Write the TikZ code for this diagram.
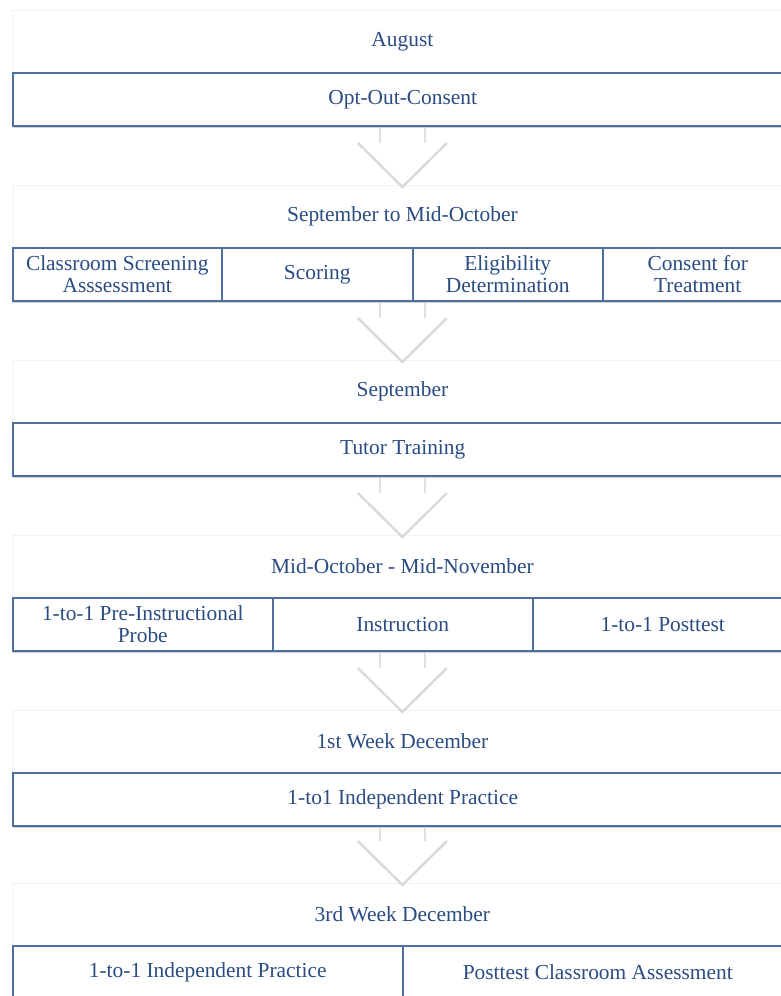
\documentclass[tikz,border=0pt]{standalone}
\usepackage{fontspec}
\setmainfont{Liberation Serif}
\usetikzlibrary{shadows,calc}
\definecolor{stepline}{HTML}{4E6E9E}
\definecolor{steptext}{HTML}{2B4C82}

\begin{document}
\begin{tikzpicture}[x=0.5pt, y=-0.5pt,
    every node/.style={font=\fontsize{10.7}{11.2}\selectfont, text=steptext},
    period/.style={
            % The header panel
            rectangle, anchor=north west, inner sep=0pt,
            minimum width=390pt, minimum height=31pt,
            % faint border
            draw=black!5, fill=white},
    task/.style={
            % The shape:
            rectangle, anchor=north west, inner sep=2pt, align=center,
            % The size:
            minimum height=26.5pt,
            % The border
            draw=stepline, line width=0.75pt,
            % The filling
            fill=white,
            drop shadow={shadow xshift=0.3pt, shadow yshift=-1pt, opacity=0.45, fill=black!40}},
    chevron/.style={fill=white},
    chevronside/.style={draw=black!12, line width=0.6pt},
    chevronedge/.style={draw=black!15, line width=1.2pt}]

        \useasboundingbox (0,0) rectangle (781,996);
        \clip (0,0) rectangle (781,996);

        % time periods
        \node[period] (hAug) at (12,10) {August};
        \node[period] (hSep) at (12,185) {September to Mid-October};
        \node[period] (hTut) at (12,360) {September};
        \node[period] (hOct) at (12,535) {Mid-October - Mid-November};
        \node[period] (hDec) at (12,710) {1st Week December};
        \node[period] (hThr) at (12,883) {3rd Week December};

        % tasks
        \node[task, minimum width=390pt] (optout) at (12,72) {Opt-Out-Consent};

        \node[task, minimum width=104.5pt] (screen) at (12,247) {Classroom Screening\\Asssessment};
        \node[task, minimum width=95.5pt] (scoring) at (221,247) {Scoring};
        \node[task, minimum width=95pt] (elig) at (412,247) {Eligibility\\Determination};
        \node[task, minimum width=95pt] (consent) at (602,247) {Consent for\\Treatment};

        \node[task, minimum width=390pt] (tutor) at (12,422) {Tutor Training};

        \node[task, minimum width=130pt] (probe) at (12,597) {1-to-1 Pre-Instructional\\Probe};
        \node[task, minimum width=130pt] (instr) at (272,597) {Instruction};
        \node[task, minimum width=130pt] (post) at (532,597) {1-to-1 Posttest};

        \node[task, minimum width=390pt] (indep) at (12,772) {1-to1 Independent Practice};

        \node[task, minimum width=195pt] (practice) at (12,945) {1-to-1 Independent Practice};
        \node[task, minimum width=195pt] (assess) at (402,945) {Posttest Classroom Assessment};

        % block arrows between periods
        \foreach \a/\b in {optout/hSep, screen/hTut, tutor/hOct, probe/hDec, indep/hThr}{
          \coordinate (top) at ($(\b.north |- \a.south)+(0,1.5)$);
          \coordinate (tip) at ($(\b.north)+(0,2)$);
          \fill[chevron] ($(top)+(-22.5,0)$) -- ($(tip)+(-22.5,-44)$) -- ($(tip)+(-44.5,-44)$) -- (tip)
            -- ($(tip)+(44.5,-44)$) -- ($(tip)+(22.5,-44)$) -- ($(top)+(22.5,0)$) -- cycle;
          \draw[chevronside] ($(top)+(-22.5,0)$) -- ($(tip)+(-22.5,-44)$);
          \draw[chevronside] ($(top)+(22.5,0)$) -- ($(tip)+(22.5,-44)$);
          \draw[chevronedge] ($(tip)+(-44.5,-44)$) -- (tip) -- ($(tip)+(44.5,-44)$);
        }

\end{tikzpicture}
\end{document}
